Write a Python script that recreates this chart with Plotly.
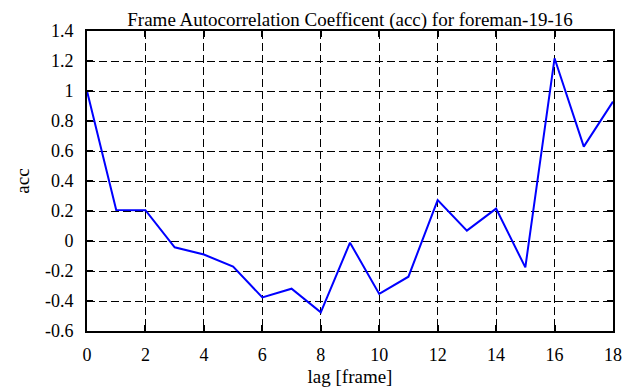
import plotly.graph_objects as go

lags = list(range(19))
acc = [1.0, 0.207, 0.205, -0.042, -0.09, -0.171, -0.376, -0.318, -0.476, -0.011,
       -0.353, -0.238, 0.273, 0.069, 0.216, -0.176, 1.218, 0.629, 0.929]
x_ticks = list(range(0, 19, 2))
y_ticks = [round(-0.6 + 0.2 * i, 1) for i in range(11)]
y_tick_labels = ["-0.6", "-0.4", "-0.2", "0", "0.2", "0.4", "0.6", "0.8", "1", "1.2", "1.4"]

FONT = "Liberation Serif"
PAGE_OFFSET = 8  # default body margin of the html page

fig = go.Figure()
fig.add_trace(go.Scatter(x=lags, y=acc, mode="lines",
                         line=dict(color="#0000ff", width=2), showlegend=False))

axis_common = dict(
    showline=True, linecolor="black", linewidth=2, mirror="ticks",
    ticks="inside", ticklen=6, tickwidth=1.5, tickcolor="black",
    showgrid=True, gridcolor="black", gridwidth=1, griddash="8px,4px",
    zeroline=False,
    tickfont=dict(family=FONT, size=18, color="black"),
)

fig.update_xaxes(range=[0, 18], tickvals=x_ticks, ticktext=[str(v) for v in x_ticks],
                 title=dict(text="lag [frame]", font=dict(family=FONT, size=19, color="black"),
                            standoff=6),
                 ticklabelstandoff=6, **axis_common)
fig.update_yaxes(range=[-0.6, 1.4], tickvals=y_ticks, ticktext=y_tick_labels,
                 title=dict(text="acc", font=dict(family=FONT, size=19, color="black"),
                            standoff=10),
                 ticklabelstandoff=8, **axis_common)

H = 387 - PAGE_OFFSET
fig.update_layout(
    width=641 - PAGE_OFFSET, height=H,
    margin=dict(l=87 - PAGE_OFFSET, r=28, t=31 - PAGE_OFFSET, b=56, autoexpand=False),
    paper_bgcolor="white", plot_bgcolor="white",
    title=dict(text="Frame Autocorrelation Coefficent (acc) for foreman-19-16",
               font=dict(family=FONT, size=19, color="black"),
               x=0.5, xref="paper", xanchor="center",
               y=1 - 5 / H, yref="container", yanchor="top", pad=dict(t=0)),
)

fig.write_html("out.html")
